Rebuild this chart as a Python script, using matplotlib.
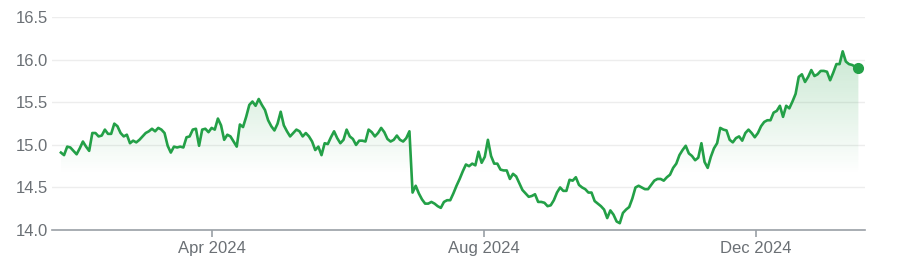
import numpy as np
import pandas as pd
import matplotlib
matplotlib.use("Agg")
import matplotlib.pyplot as plt
import matplotlib.dates as mdates
from matplotlib.colors import to_rgb

# daily closes, Jan 24 2024 -> Jan 16 2025
prices_h1 = [
    14.91, 14.88, 14.98, 14.97, 14.93, 14.89, 14.96, 15.04, 14.98, 14.93,
    15.14, 15.14, 15.10, 15.11, 15.18, 15.13, 15.13, 15.25, 15.22, 15.14,
    15.10, 15.12, 15.02, 15.05, 15.03, 15.06, 15.10, 15.14, 15.16, 15.19,
    15.16, 15.20, 15.18, 15.14, 14.99, 14.91, 14.98, 14.97, 14.98, 14.97,
    15.09, 15.10, 15.18, 15.19, 14.99, 15.18, 15.19, 15.15, 15.20, 15.18,
    15.31, 15.23, 15.06, 15.12, 15.10, 15.04, 14.98, 15.24, 15.21, 15.33,
    15.47, 15.51, 15.46, 15.54, 15.47, 15.41, 15.29, 15.22, 15.17, 15.25,
    15.39, 15.23, 15.16, 15.10, 15.14, 15.18, 15.16, 15.10, 15.14, 15.10,
    15.04, 14.94, 14.98, 14.88, 15.02, 15.01, 15.09, 15.16, 15.08, 15.02,
    15.06, 15.18, 15.10, 15.07, 15.00, 15.05, 15.05, 15.04, 15.18, 15.15,
    15.10, 15.14, 15.20, 15.15, 15.07, 15.04, 15.06, 15.11, 15.06, 15.04,
    15.08, 15.16, 14.44, 14.52, 14.43, 14.36, 14.31, 14.31, 14.33, 14.31,
    14.28, 14.26, 14.33, 14.35,
]
prices_h2 = [
    14.35, 14.43, 14.52, 14.60, 14.69, 14.77, 14.75, 14.78, 14.76, 14.92,
    14.79, 14.86, 15.06, 14.87, 14.78, 14.78, 14.71, 14.70, 14.70, 14.60,
    14.66, 14.63, 14.55, 14.47, 14.43, 14.39, 14.40, 14.42, 14.33, 14.33,
    14.32, 14.28, 14.29, 14.35, 14.44, 14.50, 14.46, 14.46, 14.59, 14.58,
    14.62, 14.53, 14.50, 14.48, 14.44, 14.44, 14.34, 14.31, 14.28, 14.24,
    14.14, 14.23, 14.18, 14.10, 14.08, 14.20, 14.24, 14.27, 14.37, 14.50,
    14.52, 14.50, 14.48, 14.48, 14.53, 14.58, 14.60, 14.60, 14.58, 14.62,
    14.65, 14.73, 14.78, 14.88, 14.94, 14.99, 14.90, 14.87, 14.82, 14.85,
    15.02, 14.80, 14.73, 14.86, 14.96, 15.02, 15.20, 15.18, 15.17, 15.06,
    15.03, 15.08, 15.10, 15.05, 15.14, 15.18, 15.14, 15.09, 15.14, 15.22,
    15.27, 15.29, 15.29, 15.38, 15.40, 15.46, 15.33, 15.46, 15.43, 15.51,
    15.60, 15.80, 15.83, 15.74, 15.80, 15.88, 15.81, 15.83, 15.87, 15.87,
    15.86, 15.76, 15.85, 15.95, 15.95, 16.10, 15.98, 15.95, 15.94, 15.92,
    15.90,
]
prices = np.array(prices_h1 + prices_h2)
dates = pd.date_range("2024-01-24", "2025-01-16", periods=len(prices))

y_ticks = [14.0, 14.5, 15.0, 15.5, 16.0, 16.5]
x_ticks = ["2024-04-01", "2024-08-01", "2024-12-01"]
x_labels = ["Apr 2024", "Aug 2024", "Dec 2024"]

green = "#23a047"
grey_text = "#6b7075"

plt.rcParams["font.family"] = ["Liberation Sans", "DejaVu Sans"]

fig = plt.figure(figsize=(9.03, 2.77), dpi=100)
ax = fig.add_axes([0.0576, 0.1697, 0.9004, 0.7678])

# gradient fill under the line, clipped to the area below the curve
poly = ax.fill_between(dates, prices, 14.0, color="none", lw=0)
lo, hi = 14.0, 16.2
levels = np.linspace(lo, hi, 300)
alpha = 0.24 * np.clip((levels - 14.65) / (16.1 - 14.65), 0, 1)
rgba = np.zeros((len(levels), 1, 4))
rgba[..., :3] = to_rgb(green)
rgba[:, 0, 3] = alpha
x0, x1 = mdates.date2num(dates[0]), mdates.date2num(dates[-1])
img = ax.imshow(rgba, extent=[x0, x1, lo, hi], origin="lower",
                aspect="auto", zorder=1, interpolation="bilinear")
img.set_clip_path(poly.get_paths()[0], transform=ax.transData)

ax.plot(dates, prices, color=green, lw=1.9, zorder=3, solid_joinstyle="round")
ax.plot(dates[-1:], prices[-1:], "o", color=green, ms=7, zorder=4)

ax.set_xlim(pd.Timestamp("2024-01-20"), pd.Timestamp("2025-01-19"))
ax.set_ylim(14.0, 16.5)

ax.set_yticks(y_ticks)
ax.set_yticklabels([f"{v:.1f}" for v in y_ticks])
ax.set_xticks(pd.to_datetime(x_ticks))
ax.set_xticklabels(x_labels)

ax.grid(axis="y", color="#ededed", lw=1, zorder=0)
ax.set_axisbelow(True)
for side in ["top", "right", "left"]:
    ax.spines[side].set_visible(False)
ax.spines["bottom"].set_color("#9aa0a6")
ax.spines["bottom"].set_linewidth(1.2)

ax.tick_params(axis="y", length=0, pad=3, labelsize=12, labelcolor=grey_text)
ax.tick_params(axis="x", length=5, width=1.2, color="#9aa0a6", pad=3,
               labelsize=12, labelcolor=grey_text)

fig.savefig("out.png", dpi=100)
